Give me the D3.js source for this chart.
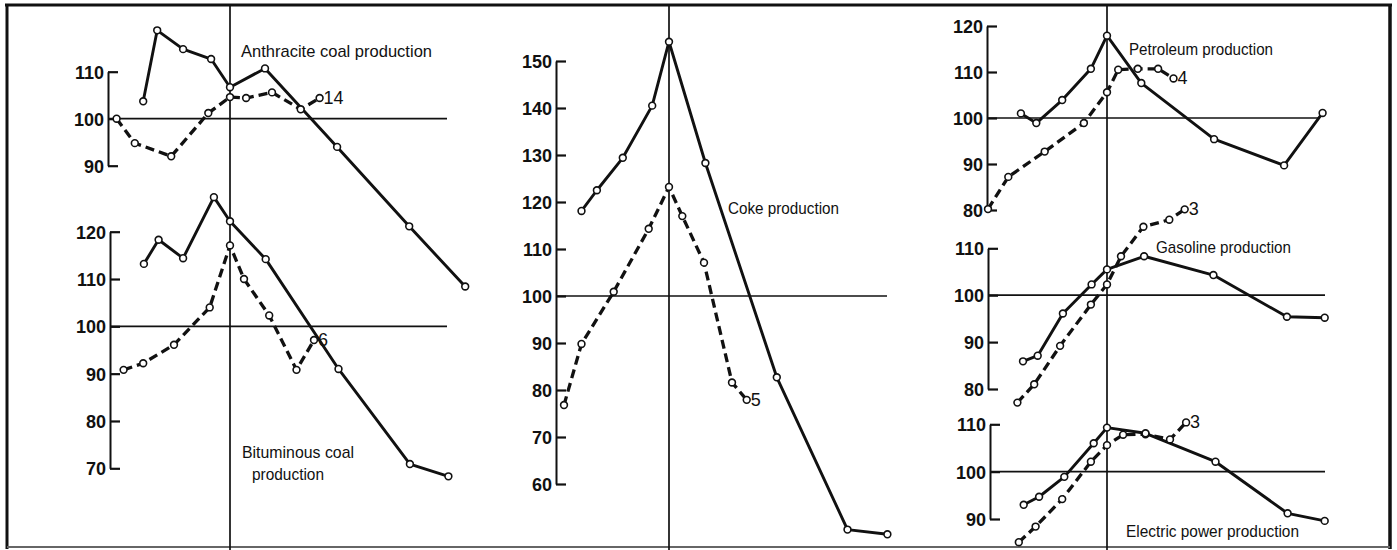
<!DOCTYPE html>
<html>
<head>
<meta charset="utf-8">
<script src="https://cdn.jsdelivr.net/npm/d3@7"></script>
<style>
  body { margin: 0; background: #fff; }
  svg { display: block; }
  .tick text { font-family: "Liberation Sans Narrow", "Liberation Sans", sans-serif; font-size: 18px; font-weight: bold; fill: #111; }
  .lbl { font-family: "Liberation Sans Narrow", "Liberation Sans", sans-serif; font-size: 17px; fill: #111; }
  .num { font-family: "Liberation Sans Narrow", "Liberation Sans", sans-serif; font-size: 18px; fill: #111; }
</style>
</head>
<body>
<div id="chart"></div>
<script>
const anthraciteRefMonths = [-12.4, -10.4, -6.7, -2.7, 0, 5.0, 15.3, 25.6, 33.6];
const anthraciteRefValues = [103.7, 118.8, 114.8, 112.7, 106.7, 110.7, 94.0, 77.1, 64.3];
const anthraciteSpecMonths = [-16.2, -13.6, -8.4, -3.1, 0, 2.3, 6.0, 10.1, 12.8];
const anthraciteSpecValues = [100.0, 94.8, 92.0, 101.2, 104.6, 104.4, 105.6, 102.0, 104.4];

const bituminousRefMonths = [-12.3, -10.2, -6.7, -2.3, 0, 5.1, 15.5, 25.7, 31.2];
const bituminousRefValues = [113.2, 118.3, 114.4, 127.3, 122.2, 114.2, 91.0, 70.9, 68.3];
const bituminousSpecMonths = [-15.2, -12.4, -8.0, -2.9, 0, 2.0, 5.6, 9.5, 12.0];
const bituminousSpecValues = [90.8, 92.2, 96.1, 104.0, 117.1, 110.0, 102.3, 90.8, 97.1];

const cokeRefMonths = [-12.5, -10.3, -6.6, -2.4, 0, 5.2, 15.4, 25.5, 31.2];
const cokeRefValues = [118.1, 122.5, 129.4, 140.5, 154.1, 128.3, 82.7, 50.3, 49.3];
const cokeSpecMonths = [-15.0, -12.5, -7.9, -2.9, 0, 1.9, 5.0, 9.0, 11.1];
const cokeSpecValues = [76.8, 89.8, 100.9, 114.3, 123.2, 117.0, 107.1, 81.6, 77.9];

const petroleumRefMonths = [-12.3, -10.1, -6.4, -2.3, 0, 4.9, 15.3, 25.3, 30.8];
const petroleumRefValues = [101.0, 98.9, 103.9, 110.7, 117.9, 107.6, 95.4, 89.7, 101.1];
const petroleumSpecMonths = [-17.0, -14.1, -8.9, -3.3, 0, 1.6, 4.4, 7.3, 9.5];
const petroleumSpecValues = [80.2, 87.2, 92.7, 98.9, 105.6, 110.5, 110.7, 110.7, 108.6];

const gasolineRefMonths = [-12.0, -9.9, -6.3, -2.2, 0, 5.3, 15.2, 25.7, 31.1];
const gasolineRefValues = [85.9, 87.1, 96.1, 102.3, 105.5, 108.3, 104.3, 95.4, 95.2];
const gasolineSpecMonths = [-12.8, -10.4, -6.7, -2.3, 0, 2.0, 5.2, 8.9, 11.1];
const gasolineSpecValues = [77.1, 81.0, 89.2, 98.0, 102.3, 108.3, 114.6, 116.1, 118.3];

const electricRefMonths = [-11.9, -9.7, -6.1, -1.9, 0, 5.5, 15.5, 25.8, 31.1];
const electricRefValues = [93.0, 94.7, 98.9, 106.0, 109.3, 108.1, 102.1, 91.2, 89.6];
const electricSpecMonths = [-12.6, -10.2, -6.4, -2.3, 0, 2.3, 5.5, 9.0, 11.3];
const electricSpecValues = [85.1, 88.4, 94.2, 102.1, 105.6, 107.8, 107.9, 106.8, 110.4];

// Number of cycles covered by each specific-cycle curve
const specCycleCounts = { anthracite: "14", bituminous: "6", coke: "5", petroleum: "4", gasoline: "3", electric: "3" };

const W = 1397, H = 550;
const svg = d3.select("#chart").append("svg")
    .attr("width", W)
    .attr("height", H);

// Frame
svg.append("line").attr("x1", 5).attr("x2", 1392).attr("y1", 5).attr("y2", 5)
    .attr("stroke", "#111").attr("stroke-width", 3);
svg.append("line").attr("x1", 7).attr("x2", 7).attr("y1", 4).attr("y2", 549)
    .attr("stroke", "#111").attr("stroke-width", 3);
svg.append("line").attr("x1", 1390).attr("x2", 1390).attr("y1", 4).attr("y2", 549)
    .attr("stroke", "#111").attr("stroke-width", 3.5);
svg.append("line").attr("x1", 7).attr("x2", 1390).attr("y1", 547).attr("y2", 547)
    .attr("stroke", "#666").attr("stroke-width", 2);

// Panels: x position of the reference peak line
const panels = [{ peakX: 230 }, { peakX: 669 }, { peakX: 1107 }];
const pxPerMonth = 7;

panels.forEach(p => {
    p.x = d3.scaleLinear().domain([0, 10]).range([p.peakX, p.peakX + 10 * pxPerMonth]);
    svg.append("line")
        .attr("x1", p.peakX).attr("x2", p.peakX)
        .attr("y1", 5).attr("y2", H)
        .attr("stroke", "#111").attr("stroke-width", 1.7);
});

const charts = [
    { key: "anthracite", panel: 0, ticks: [90, 100, 110], yRange: [165.7, 71.7], axisX: 108, lineEnd: 447,
      ref: [anthraciteRefMonths, anthraciteRefValues], spec: [anthraciteSpecMonths, anthraciteSpecValues],
      label: [{ t: "Anthracite coal production", x: 241, y: 57, w: 191 }] },
    { key: "bituminous", panel: 0, ticks: [70, 80, 90, 100, 110, 120], yRange: [468.3, 231.7], axisX: 110, lineEnd: 447,
      ref: [bituminousRefMonths, bituminousRefValues], spec: [bituminousSpecMonths, bituminousSpecValues],
      label: [{ t: "Bituminous coal", x: 242, y: 458, w: 112 }, { t: "production", x: 252, y: 480, w: 72 }] },
    { key: "coke", panel: 1, ticks: [60, 70, 80, 90, 100, 110, 120, 130, 140, 150], yRange: [484, 61], axisX: 556, lineEnd: 887,
      ref: [cokeRefMonths, cokeRefValues], spec: [cokeSpecMonths, cokeSpecValues],
      label: [{ t: "Coke production", x: 728, y: 214, w: 111 }] },
    { key: "petroleum", panel: 2, ticks: [80, 90, 100, 110, 120], yRange: [210, 26], axisX: 987, lineEnd: 1320,
      ref: [petroleumRefMonths, petroleumRefValues], spec: [petroleumSpecMonths, petroleumSpecValues],
      label: [{ t: "Petroleum production", x: 1129, y: 55, w: 144 }] },
    { key: "gasoline", panel: 2, ticks: [80, 90, 100, 110], yRange: [389, 248.3], axisX: 988, lineEnd: 1325,
      ref: [gasolineRefMonths, gasolineRefValues], spec: [gasolineSpecMonths, gasolineSpecValues],
      label: [{ t: "Gasoline production", x: 1156, y: 253, w: 135 }] },
    { key: "electric", panel: 2, ticks: [90, 100, 110], yRange: [519, 424.3], axisX: 990, lineEnd: 1325,
      ref: [electricRefMonths, electricRefValues], spec: [electricSpecMonths, electricSpecValues],
      label: [{ t: "Electric power production", x: 1126, y: 537, w: 173 }] }
];

charts.forEach(c => {
    const xScale = panels[c.panel].x;
    const yScale = d3.scaleLinear()
        .domain([c.ticks[0], c.ticks[c.ticks.length - 1]])
        .range(c.yRange);

    // Axis with ticks pointing inward
    const axis = d3.axisLeft(yScale)
        .tickValues(c.ticks)
        .tickSize(-10)
        .tickSizeOuter(0)
        .tickPadding(4)
        .tickFormat(d3.format("d"));
    const gAxis = svg.append("g")
        .attr("transform", `translate(${c.axisX},0)`)
        .call(axis);
    gAxis.select(".domain").attr("stroke", "#111").attr("stroke-width", 2);
    gAxis.selectAll(".tick line").attr("stroke", "#111").attr("stroke-width", 2.2);
    gAxis.selectAll(".tick text").attr("dy", "0.36em");

    // 100 reference line
    svg.append("line")
        .attr("x1", c.axisX).attr("x2", c.lineEnd)
        .attr("y1", yScale(100)).attr("y2", yScale(100))
        .attr("stroke", "#111").attr("stroke-width", 1.7);

    const line = d3.line()
        .x(d => xScale(d[0]))
        .y(d => yScale(d[1]));

    const refData = c.ref[0].map((m, i) => [m, c.ref[1][i]]);
    const specData = c.spec[0].map((m, i) => [m, c.spec[1][i]]);

    svg.append("path")
        .datum(specData)
        .attr("d", line)
        .attr("fill", "none")
        .attr("stroke", "#111")
        .attr("stroke-width", 3.3)
        .attr("stroke-dasharray", "9,5");

    svg.append("path")
        .datum(refData)
        .attr("d", line)
        .attr("fill", "none")
        .attr("stroke", "#111")
        .attr("stroke-width", 2.9)
        .attr("stroke-linejoin", "round");

    [specData, refData].forEach(data => {
        svg.append("g").selectAll("circle")
            .data(data)
            .enter().append("circle")
            .attr("cx", d => xScale(d[0]))
            .attr("cy", d => yScale(d[1]))
            .attr("r", 3.4)
            .attr("fill", "#fff")
            .attr("stroke", "#111")
            .attr("stroke-width", 1.6);
    });

    // Count of specific cycles at end of dashed curve
    const last = specData[specData.length - 1];
    svg.append("text")
        .attr("class", "num")
        .attr("x", xScale(last[0]) + 4)
        .attr("y", yScale(last[1]) + 6)
        .text(specCycleCounts[c.key]);

    c.label.forEach(l => {
        svg.append("text")
            .attr("class", "lbl")
            .attr("x", l.x)
            .attr("y", l.y)
            .attr("textLength", l.w)
            .attr("lengthAdjust", "spacingAndGlyphs")
            .text(l.t);
    });
});
</script>
</body>
</html>
